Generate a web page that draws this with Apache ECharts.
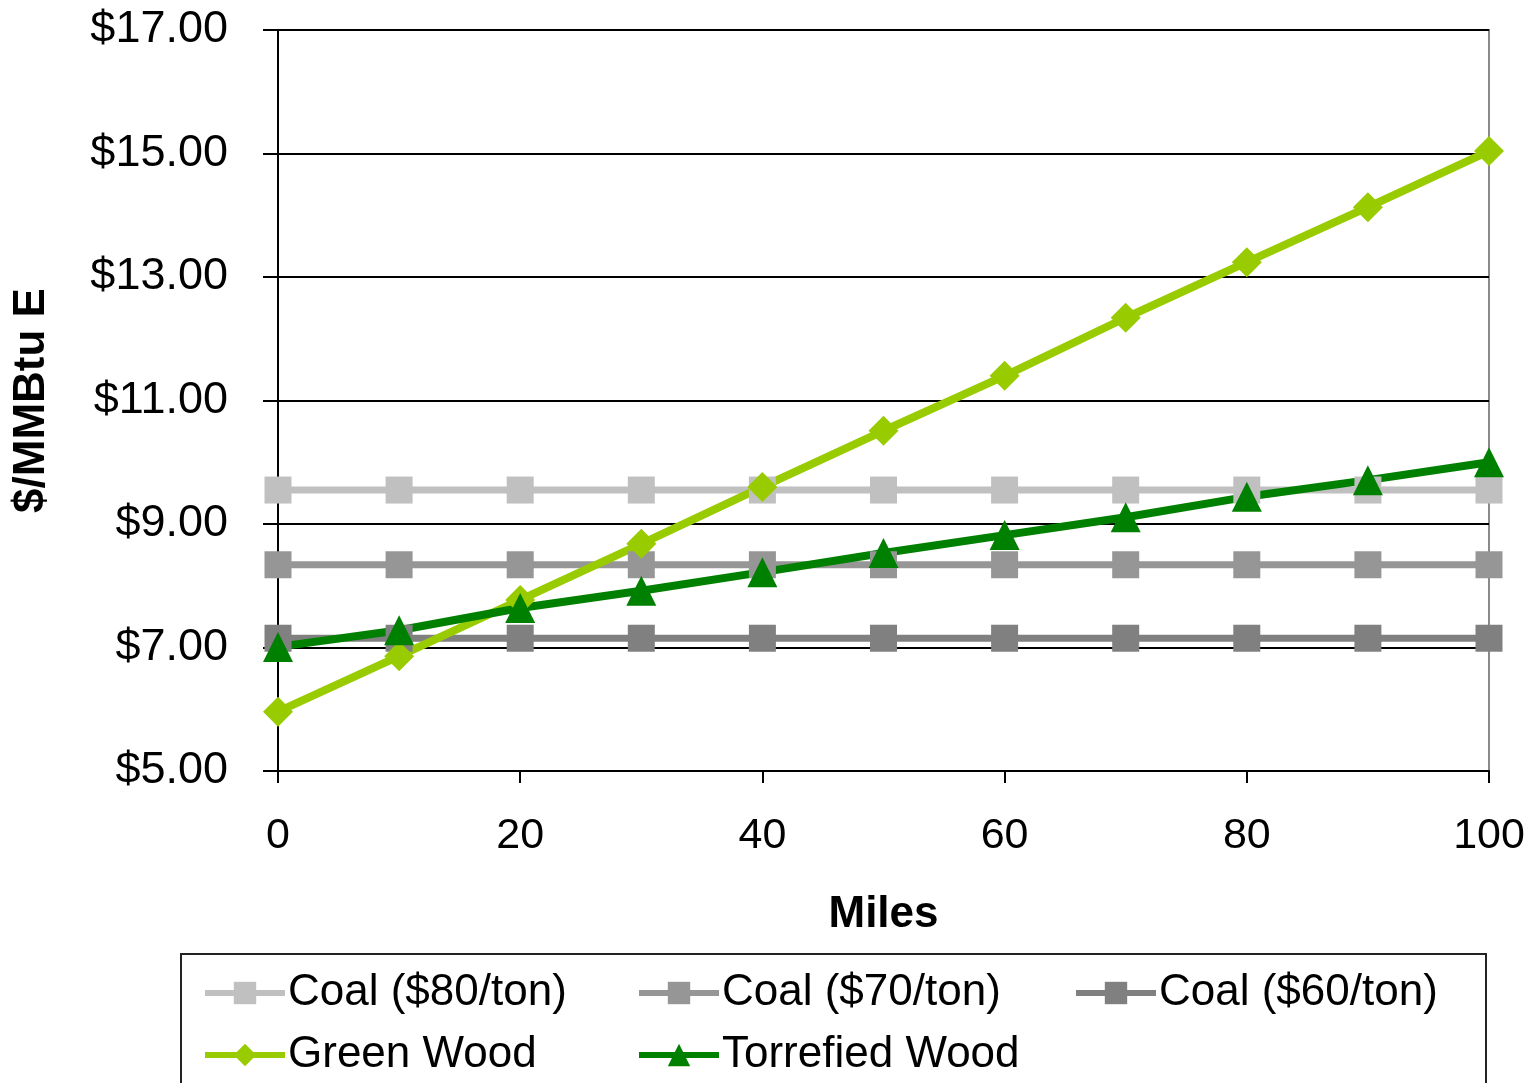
<!DOCTYPE html>
<html>
<head>
<meta charset="utf-8">
<script src="https://cdn.jsdelivr.net/npm/echarts@6/dist/echarts.min.js"></script>
<style>
html,body{margin:0;padding:0;background:#fff;}
#c{width:1532px;height:1083px;}
</style>
</head>
<body>
<div id="c"></div>
<script>
var miles = [0, 10, 20, 30, 40, 50, 60, 70, 80, 90, 100];
var coal80 = [9.55, 9.55, 9.55, 9.55, 9.55, 9.55, 9.55, 9.55, 9.55, 9.55, 9.55];
var coal70 = [8.34, 8.34, 8.34, 8.34, 8.34, 8.34, 8.34, 8.34, 8.34, 8.34, 8.34];
var coal60 = [7.15, 7.15, 7.15, 7.15, 7.15, 7.15, 7.15, 7.15, 7.15, 7.15, 7.15];
var greenWood = [5.96, 6.86, 7.77, 8.68, 9.60, 10.51, 11.40, 12.34, 13.24, 14.13, 15.04];
var torrefiedWood = [7.01, 7.28, 7.64, 7.92, 8.22, 8.53, 8.82, 9.11, 9.44, 9.71, 10.00];
var seriesNames = ['Coal ($80/ton)', 'Coal ($70/ton)', 'Coal ($60/ton)', 'Green Wood', 'Torrefied Wood'];

function pairs(vals) { return miles.map(function (m, i) { return [m, vals[i]]; }); }

var FONT = 'Liberation Sans, Arial, sans-serif';
var chart = echarts.init(document.getElementById('c'));

function mkSeries(name, vals, color, symbol, size, width) {
  return {
    name: name, type: 'line', data: pairs(vals),
    symbol: symbol, symbolSize: size, showSymbol: true,
    lineStyle: { color: color, width: width },
    itemStyle: { color: color },
    emphasis: { disabled: true },
    animation: false
  };
}

function mkLegend(name, left, top) {
  return {
    data: [name], left: left, top: top, orient: 'horizontal',
    itemWidth: 80, itemHeight: 28, itemGap: 0,
    lineStyle: { width: 6 },
    textStyle: { fontFamily: FONT, fontSize: 44, color: '#000', padding: [0, 0, 0, -2] },
    padding: 0, selectedMode: false
  };
}

chart.setOption({
  backgroundColor: '#fff',
  animation: false,
  grid: { left: 278, right: 43, top: 30, bottom: 312, show: true, borderColor: '#8a8a8a', borderWidth: 2 },
  xAxis: {
    type: 'value', min: 0, max: 100, interval: 20,
    name: 'Miles', nameLocation: 'middle', nameGap: 122,
    nameTextStyle: { fontFamily: FONT, fontSize: 44, fontWeight: 'bold', color: '#000' },
    axisLine: { show: true, onZero: false, lineStyle: { color: '#000', width: 2 } },
    axisTick: { show: true, length: 12, lineStyle: { color: '#000', width: 2 } },
    axisLabel: { fontFamily: FONT, fontSize: 43, color: '#000', margin: 44 },
    splitLine: { show: false }
  },
  yAxis: {
    type: 'value', min: 5, max: 17, interval: 2,
    name: '$/MMBtu E', nameLocation: 'middle', nameGap: 224, nameRotate: 90,
    nameTextStyle: { fontFamily: FONT, fontSize: 44, fontWeight: 'bold', color: '#000' },
    axisLine: { show: true, lineStyle: { color: '#000', width: 2 } },
    axisTick: { show: true, length: 15, lineStyle: { color: '#000', width: 2 } },
    axisLabel: { fontFamily: FONT, fontSize: 45, color: '#000', margin: 50,
      formatter: function (v) { return '$' + v.toFixed(2); } },
    splitLine: { show: true, lineStyle: { color: '#000', width: 2 } }
  },
  legend: [
    mkLegend(seriesNames[0], 202, 971),
    mkLegend(seriesNames[1], 636, 971),
    mkLegend(seriesNames[2], 1073, 971),
    mkLegend(seriesNames[3], 202, 1033),
    mkLegend(seriesNames[4], 636, 1033)
  ],
  graphic: [{
    type: 'rect', shape: { x: 181, y: 954, width: 1305, height: 160 },
    style: { fill: 'none', stroke: '#222', lineWidth: 2 }, silent: true, z: -1
  }],
  series: [
    mkSeries(seriesNames[0], coal80, '#C0C0C0', 'rect', 27, 7),
    mkSeries(seriesNames[1], coal70, '#969696', 'rect', 27, 7),
    mkSeries(seriesNames[2], coal60, '#808080', 'rect', 27, 7),
    mkSeries(seriesNames[3], greenWood, '#99CC00', 'diamond', 30, 8),
    mkSeries(seriesNames[4], torrefiedWood, '#008000', 'triangle', 30, 8)
  ]
});
</script>
</body>
</html>
